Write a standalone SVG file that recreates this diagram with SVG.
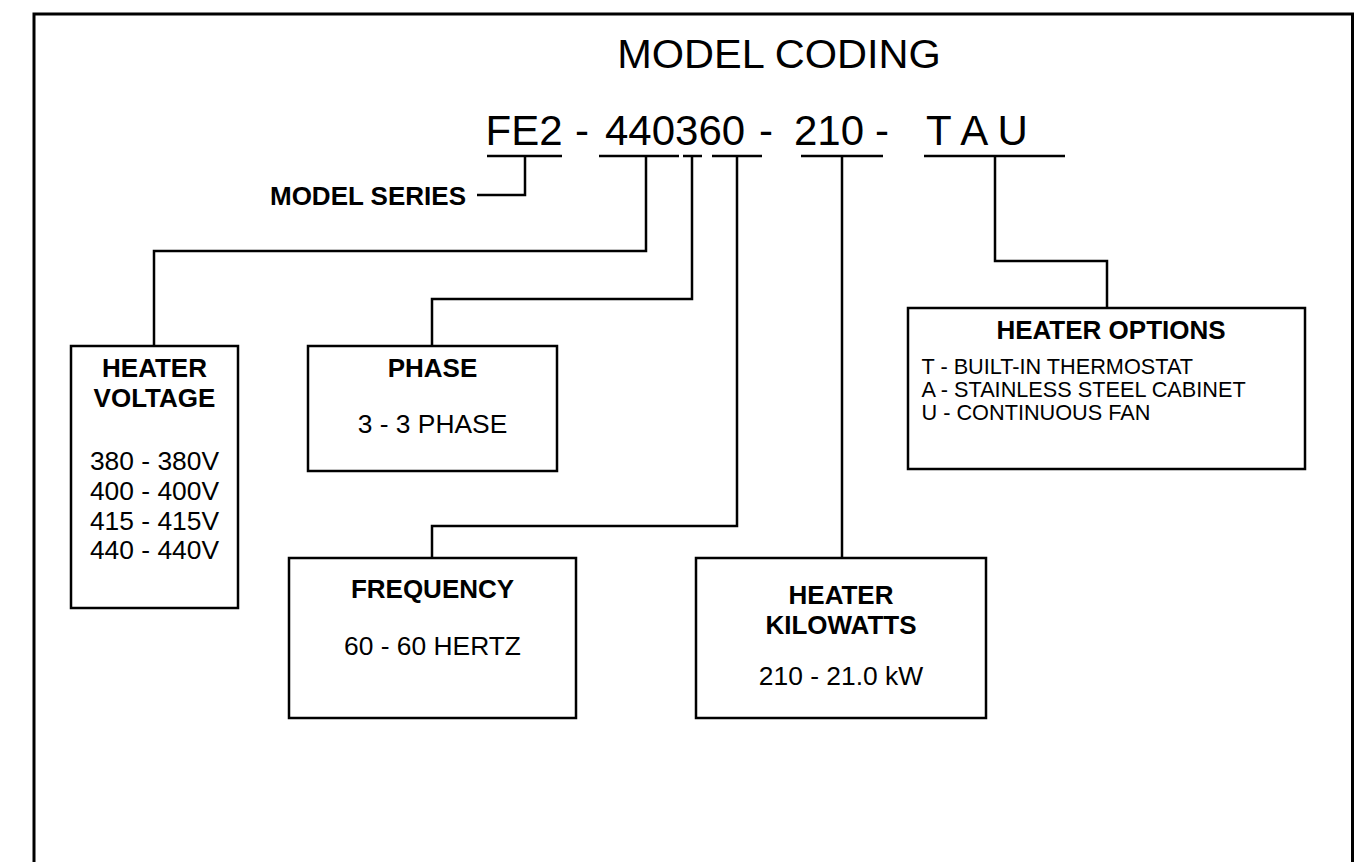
<svg xmlns="http://www.w3.org/2000/svg" width="1354" height="862" viewBox="0 0 1354 862">
<style>
text{font-family:"Liberation Sans",Arial,sans-serif;fill:#000}
.t{font-size:41.5px}
.c{font-size:42px}
.b{font-size:26px;font-weight:bold}
.r{font-size:26.4px}
.s{font-size:21.7px}
.m{text-anchor:middle}
.box{fill:#fff;stroke:#000;stroke-width:2.5}
.ln{fill:none;stroke:#000;stroke-width:2.5}
</style>
<rect x="0" y="0" width="1354" height="862" fill="#fff"/>
<path d="M34 880 V14 H1352.5 V880" fill="none" stroke="#000" stroke-width="3"/>
<g id="title">
<text class="t m" x="779" y="68">MODEL CODING</text>
</g>
<g id="code">
<text class="c" x="485.6" y="145">FE2</text>
<text class="c" x="575" y="145">-</text>
<text class="c" x="605" y="145">440360</text>
<text class="c" x="759" y="145">-</text>
<text class="c" x="794" y="145">210</text>
<text class="c" x="875" y="145">-</text>
<text class="c" x="926" y="145">T A U</text>
</g>
<g id="underlines">
<path class="ln" d="M487 156 H562 M599 156 H679 M683 156 H702 M712 156 H762 M801 156 H883 M924 156 H1065"/>
</g>
<g id="connectors">
<path class="ln" d="M525 156 V195 H477"/>
<path class="ln" d="M646 156 V251 H154 V346"/>
<path class="ln" d="M692 156 V299 H432 V346"/>
<path class="ln" d="M737 156 V526 H432 V558"/>
<path class="ln" d="M842 156 V558"/>
<path class="ln" d="M995 156 V261 H1107 V308"/>
</g>
<g id="model-series">
<text class="b" x="466" y="205" text-anchor="end">MODEL SERIES</text>
</g>
<g id="heater-voltage">
<rect class="box" x="71" y="346" width="167" height="262"/>
<text class="b m" x="154.5" y="377">HEATER</text>
<text class="b m" x="154.5" y="407">VOLTAGE</text>
<text class="r m" x="154.5" y="470">380 - 380V</text>
<text class="r m" x="154.5" y="500">400 - 400V</text>
<text class="r m" x="154.5" y="529.5">415 - 415V</text>
<text class="r m" x="154.5" y="559">440 - 440V</text>
</g>
<g id="phase">
<rect class="box" x="308" y="346" width="249" height="125"/>
<text class="b m" x="432.5" y="377">PHASE</text>
<text class="r m" x="432.5" y="433">3 - 3 PHASE</text>
</g>
<g id="frequency">
<rect class="box" x="289" y="558" width="287" height="160"/>
<text class="b m" x="432.5" y="598">FREQUENCY</text>
<text class="r m" x="432.5" y="655">60 - 60 HERTZ</text>
</g>
<g id="heater-kilowatts">
<rect class="box" x="696" y="558" width="290" height="160"/>
<text class="b m" x="841" y="604">HEATER</text>
<text class="b m" x="841" y="634">KILOWATTS</text>
<text class="r m" x="841" y="685">210 - 21.0 kW</text>
</g>
<g id="heater-options">
<rect class="box" x="908" y="308" width="397" height="161"/>
<text class="b m" x="1111" y="339">HEATER OPTIONS</text>
<text class="s" x="921.5" y="374">T - BUILT-IN THERMOSTAT</text>
<text class="s" x="921.5" y="397">A - STAINLESS STEEL CABINET</text>
<text class="s" x="921.5" y="420">U - CONTINUOUS FAN</text>
</g>
</svg>
